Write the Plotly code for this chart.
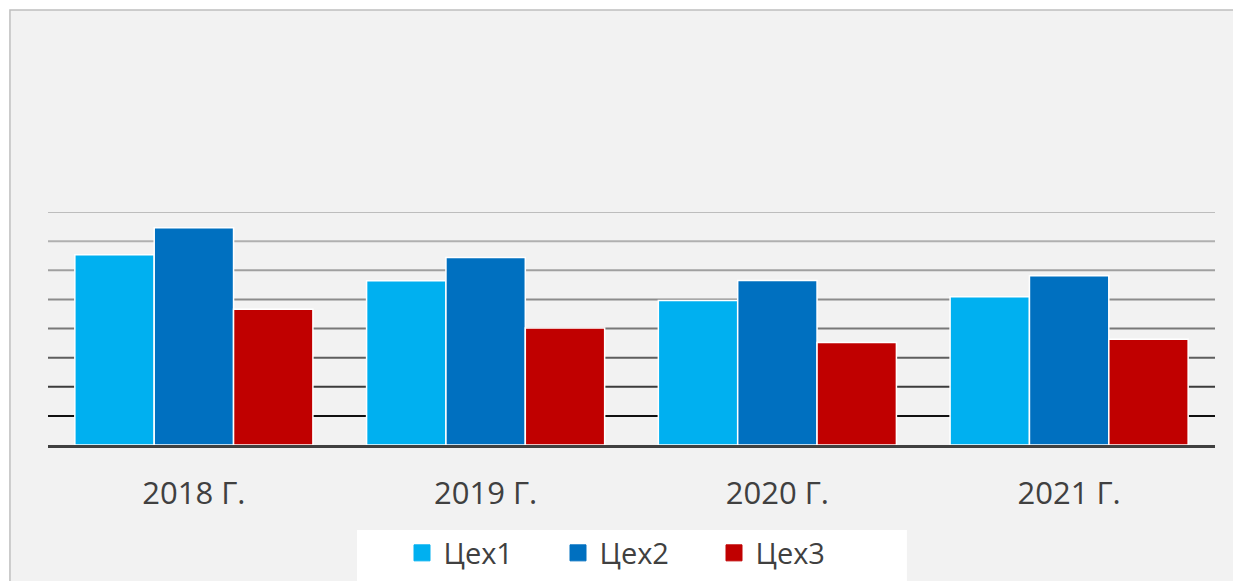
import plotly.graph_objects as go

categories = ["2018 Г.", "2019 Г.", "2020 Г.", "2021 Г."]
series_names = ["Цех1", "Цех2", "Цех3"]
cex1 = [6.53, 5.64, 4.96, 5.09]
cex2 = [7.46, 6.44, 5.65, 5.81]
cex3 = [4.66, 4.02, 3.52, 3.63]
colors = ["#00B0F0", "#0070C0", "#C00000"]
grid_levels = [1, 2, 3, 4, 5, 6, 7, 8]
grid_colors = ["#111111", "#3c3c3c", "#5e5e5e", "#787878", "#8c8c8c", "#a0a0a0", "#b0b0b0", "#bdbdbd"]

fig = go.Figure()
for name, vals, col in zip(series_names, [cex1, cex2, cex3], colors):
    fig.add_trace(go.Bar(x=categories, y=vals, name=name, showlegend=False,
                         marker=dict(color=col, line=dict(color="white", width=1.5))))
for name, col in zip(series_names, colors):
    fig.add_trace(go.Scatter(x=[None], y=[None], mode="markers", name=name,
                             marker=dict(symbol="square", size=16, color=col,
                                         line=dict(color=col, width=1))))

shapes = []
# outer chart frame
shapes.append(dict(type="rect", xref="paper", yref="paper", x0=-0.0326, x1=1.2, y0=-1.2, y1=1.867,
                   fillcolor="#f2f2f2", line=dict(color="#bfbfbf", width=1.5), layer="below"))
# legend white box
shapes.append(dict(type="rect", xref="paper", yref="paper", x0=0.2648, x1=0.736, y0=-1.2, y1=-0.3648,
                   fillcolor="white", line=dict(width=0), layer="below"))
for lvl, gc in zip(grid_levels, grid_colors):
    shapes.append(dict(type="line", xref="paper", yref="y", x0=0, x1=1, y0=lvl, y1=lvl,
                       line=dict(color=gc, width=2), layer="below"))

fig.update_layout(
    width=1233, height=573,
    margin=dict(l=40, r=26, t=204, b=136, autoexpand=False),
    paper_bgcolor="white", plot_bgcolor="rgba(0,0,0,0)",
    barmode="group", bargap=0.184, bargroupgap=0,
    font=dict(family="Open Sans", color="#404040"),
    shapes=shapes,
    showlegend=True,
    legend=dict(orientation="h", x=0.5 + 3 / 1167, xanchor="center", yref="container",
                y=1 - 545 / 573, yanchor="middle",
                bgcolor="rgba(0,0,0,0)", font=dict(size=29, color="#404040"),
                entrywidth=108, entrywidthmode="pixels", itemsizing="trace", itemwidth=33),
    xaxis=dict(showgrid=False, showline=True, linecolor="#404040", linewidth=3,
               automargin=False,
               ticks="outside", ticklen=19, tickcolor="rgba(0,0,0,0)",
               tickfont=dict(size=31, color="#404040")),
    yaxis=dict(range=[0, 8], showgrid=False, showticklabels=False, zeroline=False,
               showline=False, automargin=False),
)
fig.write_html("out.html")
